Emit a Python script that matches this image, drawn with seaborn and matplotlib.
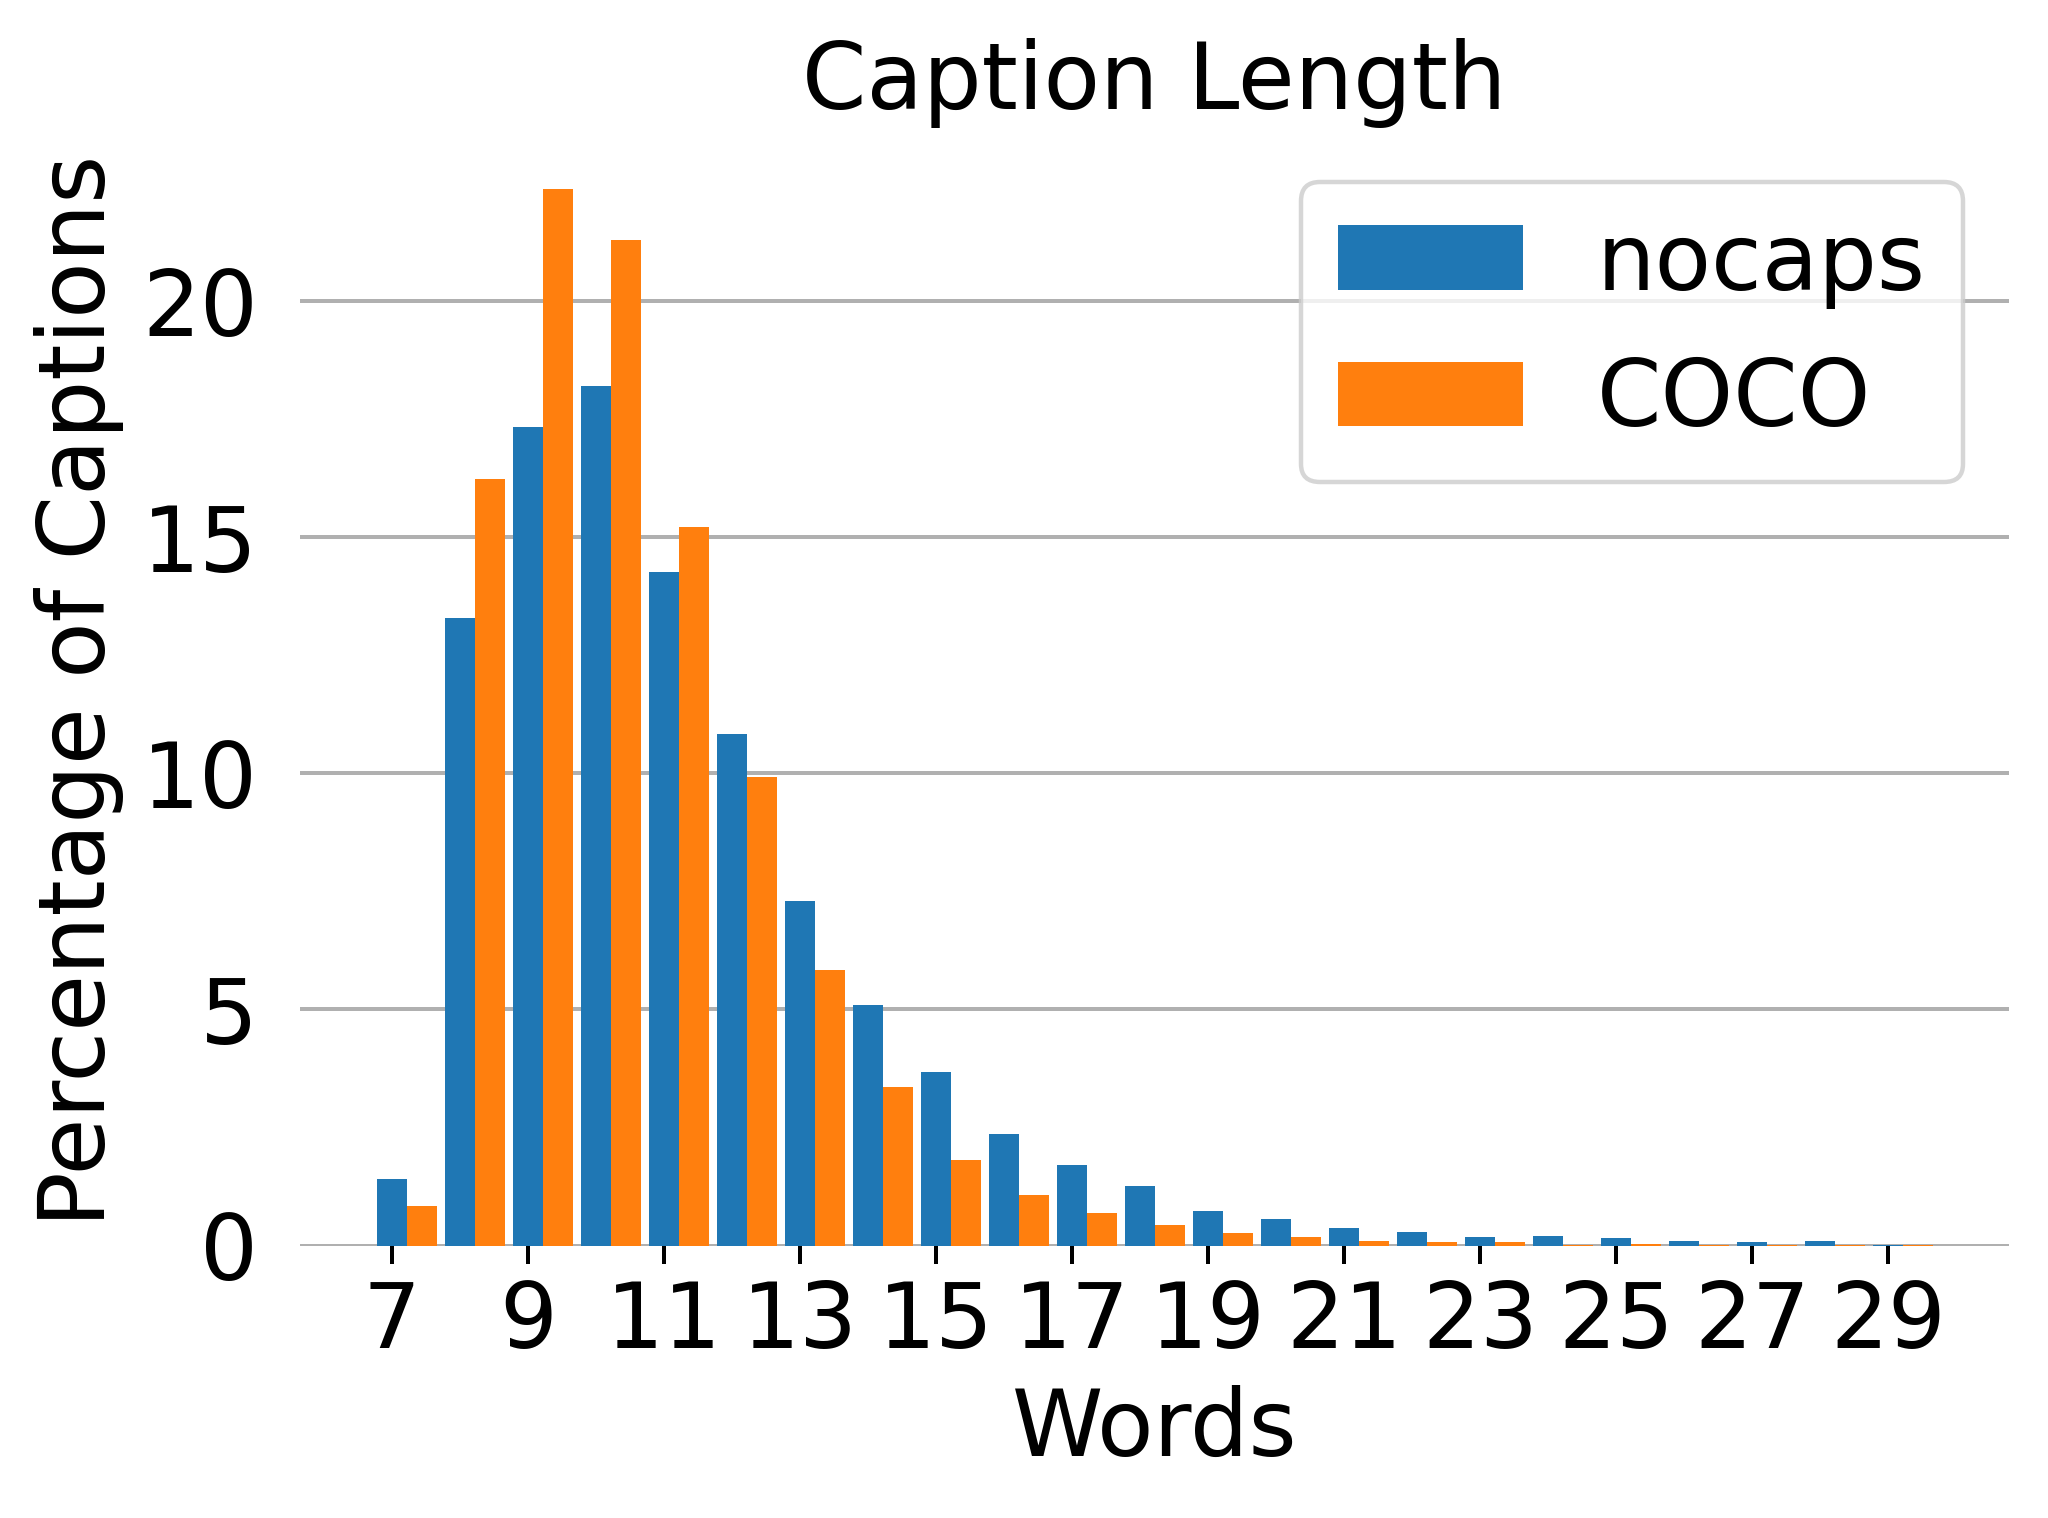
import numpy as np
import pandas as pd
import matplotlib
import matplotlib.pyplot as plt
matplotlib.use("Agg")
import seaborn as sns

# Caption length distribution (percentage of captions per word count)
words = list(range(7, 30))
nocaps = [1.41, 13.28, 17.34, 18.20, 14.27, 10.84, 7.30, 5.09, 3.68, 2.37,
          1.71, 1.26, 0.74, 0.56, 0.37, 0.28, 0.19, 0.21, 0.15, 0.10,
          0.07, 0.085, 0.02]
coco = [0.83, 16.24, 22.38, 21.30, 15.21, 9.93, 5.84, 3.35, 1.82, 1.07,
        0.68, 0.43, 0.27, 0.17, 0.085, 0.064, 0.064, 0.021, 0.042, 0.014,
        0.007, 0.002, 0.007]
tick_words = list(range(7, 30, 2))

df = pd.DataFrame({
    "words": words * 2,
    "pct": nocaps + coco,
    "dataset": ["nocaps"] * len(words) + ["COCO"] * len(words),
})

fs = 20.8
tfs = 20.5
fig = plt.figure(figsize=(6.4, 4.744), dpi=320)
ax = fig.add_axes([0.1465, 0.1795, 0.8345, 0.7309])

sns.barplot(data=df, x="words", y="pct", hue="dataset",
            palette=["#1f77b4", "#ff7f0e"], saturation=1,
            width=0.88, errorbar=None, ax=ax)

# bars for word w sit from w-0.22 (nocaps) to w+0.66 (COCO)
idx = [words.index(w) - 0.22 for w in tick_words]
ax.set_xticks(idx, [str(w) for w in tick_words], fontsize=tfs)
ax.set_xlim(-1.57, 23.56)
ax.set_ylim(0, 23.5)
ax.set_yticks([0, 5, 10, 15, 20], ["0", "5", "10", "15", "20"], fontsize=tfs)
ax.tick_params(axis="y", length=0, pad=9.5)
ax.tick_params(axis="x", length=4, width=0.9)

ax.grid(axis="y", color="#b0b0b0", linewidth=0.9)
ax.set_axisbelow(True)
for s in ax.spines.values():
    s.set_visible(False)

ax.set_xlabel("Words", fontsize=fs)
ax.set_ylabel("Percentage of Captions", fontsize=fs)
ax.set_title("Caption Length", fontsize=fs)

sns.move_legend(ax, "upper right", title=None, fontsize=fs)

plt.savefig("out.png", dpi=320)
